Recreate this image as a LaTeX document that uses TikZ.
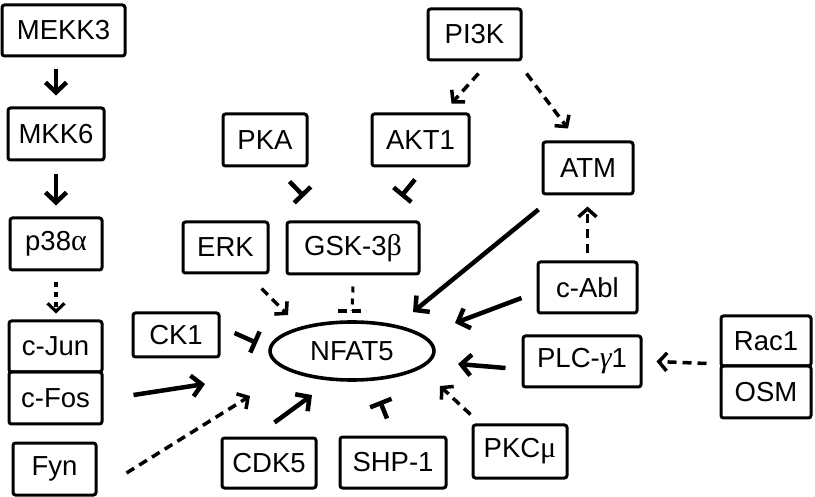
\documentclass[tikz,border=0pt]{standalone}
\usepackage{fontspec}
\setmainfont{Liberation Sans}
\newfontfamily\gr{Liberation Serif}
\usetikzlibrary{arrows.meta,calc,shapes.geometric}
\tikzset{
  bx/.style={draw, line width=3pt, rounded corners=2.5pt, inner sep=0pt, minimum height=51pt,
    font=\fontsize{27.5}{32}\selectfont},
  act/.style={line width=4.5pt, -{Straight Barb[length=10pt,width=21pt]}},
  dact/.style={line width=3.5pt, dash pattern=on 9pt off 6pt, -{Straight Barb[length=8pt,width=18pt]}},
  inh/.style={line width=4.5pt, -{Bar[width=23pt]}},
}
\begin{document}
\begin{tikzpicture}[x=1pt,y=-1pt]
\useasboundingbox (0,0) rectangle (815,497);
% nodes
\node[bx, minimum width=123pt] (mekk3) at (63.5,30.5) {MEKK3};
\node[bx, minimum width=96pt, minimum height=52pt] (mkk6) at (56,134) {MKK6};
\node[bx, minimum width=92pt, minimum height=52pt] (p38) at (56,244) {p38{\gr\fontsize{30}{32}\selectfont α}};
\node[bx, minimum width=93pt] (cjun) at (55.5,346.5) {c-Jun};
\node[bx, minimum width=93pt, minimum height=52pt] (cfos) at (55.5,398) {c-Fos};
\node[bx, minimum width=83pt, minimum height=52pt] (fyn) at (54.5,469) {Fyn};
\node[bx, minimum width=84pt, minimum height=52pt] (pka) at (265,140) {PKA};
\node[bx, minimum width=97pt, minimum height=52pt] (akt1) at (420.5,140) {AKT1};
\node[bx, minimum width=93pt] (pi3k) at (474.5,34.5) {PI3K};
\node[bx, minimum width=90pt, minimum height=52pt] (atm) at (588,168) {ATM};
\node[bx, minimum width=85pt] (erk) at (225.5,247.5) {ERK};
\node[bx, minimum width=132pt, minimum height=52pt] (gsk) at (353,248) {GSK-3{\gr\fontsize{30}{32}\selectfont β}};
\node[bx, minimum width=99pt] (cabl) at (587.5,287.5) {c-Abl};
\node[bx, minimum width=86pt, minimum height=44pt] (ck1) at (176,335) {CK1};
\node[bx, minimum width=118pt] (plc) at (582,361.5) {PLC-{\gr\itshape\fontsize{30}{32}\selectfont γ}1};
\node[bx, minimum width=90pt, minimum height=50pt] (rac1) at (766,341) {Rac1};
\node[bx, minimum width=90pt, minimum height=52pt] (osm) at (766,392) {OSM};
\node[bx, minimum width=94pt, minimum height=50pt] (cdk5) at (269,463) {CDK5};
\node[bx, minimum width=106pt] (shp1) at (393,462.5) {SHP-1};
\node[bx, minimum width=94pt, minimum height=53pt] (pkc) at (520,451.5) {PKC{\gr\fontsize{30}{32}\selectfont μ}};
\node[draw, ellipse, line width=3.6pt, minimum width=164pt, minimum height=58pt, inner sep=0pt,
  font=\fontsize{27.5}{32}\selectfont] (nfat5) at (352,351) {NFAT5};
% connectors
\draw[act, shorten <=12pt, shorten >=11pt] (mkk6.north |- mekk3.south) -- (mkk6.north);
\draw[act, shorten <=13pt, shorten >=11pt] (mkk6.south) -- (p38.north);
\draw[line width=3.2pt, dash pattern=on 5pt off 5pt, -{Straight Barb[length=8pt,width=17pt]}, shorten <=11pt, shorten >=6pt] (p38.south) -- (p38.south |- cjun.north);
\draw[act] ($(cfos.east)+(30,-3)$) -- ($(nfat5)+(-147,33)$);
\draw[dact] ($(fyn.east)+(29,4)$) -- ($(nfat5)+(-102,45)$);
\draw[inh] ($(ck1.east)+(14,-2)$) -- ($(nfat5)+(-95,-8)$);
\draw[dact] ($(erk.south east)+(-8,14)$) -- ($(nfat5)+(-64,-36)$);
\draw[line width=3pt, dash pattern=on 6pt off 6pt] ($(gsk.south)+(0,11)$) -- ($(nfat5)+(0,-40)$);
\draw[line width=3.5pt, dash pattern=on 9pt off 5pt] ($(nfat5)+(-14,-40)$) -- ($(nfat5)+(14,-40)$);
\draw[act] ($(atm.south west)+(-3,14)$) -- ($(nfat5)+(61,-39)$);
\draw[act] ($(cabl.west)+(-15,10.5)$) -- ($(nfat5)+(103,-28)$);
\draw[act] ($(plc.west)+(-16,6.5)$) -- ($(nfat5)+(106,13)$);
\draw[dact] ($(rac1.south west)+(-13,-4)$) -- ($(plc.east)+(14,0)$);
\draw[dact, shorten <=7pt, shorten >=11pt] (cabl.north) -- (cabl.north |- atm.south);
\draw[dact] ($(pi3k.south)+(4,12)$) -- ($(akt1.north)+(31,-9)$);
\draw[dact] ($(pi3k.south east)+(4,12)$) -- ($(atm.north)+(-20,-12)$);
\draw[inh] ($(pka.south east)+(-19,14)$) -- ($(gsk.north)+(-49,-24)$);
\draw[inh] ($(akt1.south)+(-5.5,12)$) -- ($(gsk.north)+(48,-24)$);
\draw[act] ($(cdk5.north east)+(-43,-14)$) -- ($(nfat5)+(-40,44)$);
\draw[inh] ($(shp1.north)+(-6,-17)$) -- ($(nfat5)+(28,50)$);
\draw[dact] ($(pkc.north west)+(-1,-9)$) -- ($(nfat5)+(88,35)$);
\end{tikzpicture}
\end{document}
